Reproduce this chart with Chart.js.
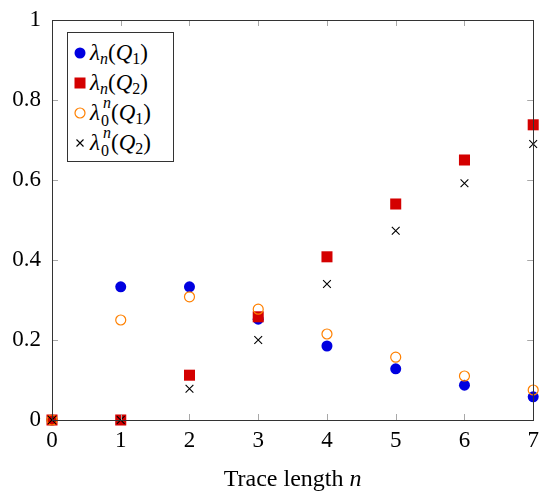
<!DOCTYPE html>
<html><head><meta charset="utf-8">
<script src="https://cdn.jsdelivr.net/npm/chart.js@4"></script>
<style>
html,body{margin:0;padding:0;background:#fff;}
#wrap{position:relative;width:541px;height:491px;}
#legend{position:absolute;left:67px;top:32px;width:107px;height:130px;border:1px solid #333;background:#fff;box-sizing:border-box;font-family:"Liberation Serif",serif;font-size:23px;color:#000;}
.row{position:absolute;left:0;width:100%;height:30px;display:flex;align-items:center;white-space:nowrap;}
.mk{width:12px;height:12px;margin-left:6px;margin-right:4px;display:block;flex:none;}
.mk svg{display:block;}
.tx{display:flex;align-items:center;height:30px;line-height:30px;}
i{font-style:italic;}
.sub{font-size:16px;position:relative;top:6px;line-height:16px;}
.stk{display:inline-block;position:relative;width:11px;height:30px;}
.stk .up{position:absolute;left:3px;top:-3px;font-size:16px;line-height:16px;font-style:italic;}
.stk .dn{position:absolute;left:1px;top:15px;font-size:16px;line-height:16px;}
</style></head>
<body><div id="wrap"><canvas id="c" width="541" height="491"></canvas>
<div id="legend">
 <div class="row" style="top:5px"><span class="mk"><svg width="12" height="12"><circle cx="6" cy="6" r="5.5" fill="#0000e0"/></svg></span><span class="tx"><i>λ</i><span class="sub"><i>n</i></span>(<i>Q</i><span class="sub">1</span>)</span></div>
 <div class="row" style="top:35px"><span class="mk"><svg width="12" height="12"><rect x="0.5" y="0.5" width="11" height="11" fill="#d40000"/></svg></span><span class="tx"><i>λ</i><span class="sub"><i>n</i></span>(<i>Q</i><span class="sub">2</span>)</span></div>
 <div class="row" style="top:65px"><span class="mk"><svg width="12" height="12"><circle cx="6" cy="6" r="5" fill="none" stroke="#ff8000" stroke-width="1.2"/></svg></span><span class="tx"><i>λ</i><span class="stk"><span class="up">n</span><span class="dn">0</span></span>(<i>Q</i><span class="sub">1</span>)</span></div>
 <div class="row" style="top:95px"><span class="mk"><svg width="12" height="12"><path d="M2.5 2.5L9.5 9.5M9.5 2.5L2.5 9.5" stroke="#000" stroke-width="1.1"/></svg></span><span class="tx"><i>λ</i><span class="stk"><span class="up">n</span><span class="dn">0</span></span>(<i>Q</i><span class="sub">2</span>)</span></div>
</div>
</div>
<script>
const traceLengths = [0, 1, 2, 3, 4, 5, 6, 7];
const lambdaQ1 = [0, 0.333, 0.333, 0.252, 0.185, 0.128, 0.087, 0.058];
const lambdaQ2 = [0, 0, 0.112, 0.258, 0.408, 0.54, 0.65, 0.738];
const lambda0Q1 = [0, 0.25, 0.308, 0.277, 0.215, 0.157, 0.11, 0.075];
const lambda0Q2 = [0, 0, 0.078, 0.2, 0.34, 0.473, 0.592, 0.69];
const xTickLabels = ['0','1','2','3','4','5','6','7'];
const yTickValues = [0, 0.2, 0.4, 0.6, 0.8, 1];
const yTickLabels = ['0','0.2','0.4','0.6','0.8','1'];
const xTitle = 'Trace length ';

function pts(ys){ return traceLengths.map((x,i)=>({x:x,y:ys[i]})); }

const FONT = '"Liberation Serif", serif';
const axesPlugin = {
  id:'axesPlugin',
  afterDatasetsDraw(chart){
    const ctx = chart.ctx, a = chart.chartArea;
    const xs = chart.scales.x, ys = chart.scales.y;
    ctx.save();
    ctx.strokeStyle = '#a8a8a8'; ctx.lineWidth = 1;
    const tl = 6;
    traceLengths.forEach(v=>{
      const px = Math.round(xs.getPixelForValue(v))+0.5;
      ctx.beginPath(); ctx.moveTo(px,a.bottom); ctx.lineTo(px,a.bottom-tl);
      ctx.moveTo(px,a.top); ctx.lineTo(px,a.top+tl); ctx.stroke();
    });
    yTickValues.forEach(v=>{
      const py = Math.round(ys.getPixelForValue(v))+0.5;
      ctx.beginPath(); ctx.moveTo(a.left,py); ctx.lineTo(a.left+tl,py);
      ctx.moveTo(a.right,py); ctx.lineTo(a.right-tl,py); ctx.stroke();
    });
    ctx.strokeStyle = '#333';
    ctx.strokeRect(Math.round(a.left)+0.5, Math.round(a.top)+0.5, Math.round(a.right-a.left), Math.round(a.bottom-a.top));
    ctx.fillStyle = '#000';
    ctx.font = '23px ' + FONT;
    ctx.textAlign = 'center'; ctx.textBaseline = 'top';
    traceLengths.forEach((v,i)=>{
      ctx.fillText(xTickLabels[i], xs.getPixelForValue(v), a.bottom+9);
    });
    ctx.textAlign = 'right'; ctx.textBaseline = 'middle';
    yTickValues.forEach((v,i)=>{
      ctx.fillText(yTickLabels[i], a.left-11, ys.getPixelForValue(v));
    });
    // x title
    ctx.textBaseline = 'alphabetic'; ctx.textAlign = 'left';
    ctx.font = '24px ' + FONT;
    const w1 = ctx.measureText(xTitle).width;
    ctx.font = 'italic 24px ' + FONT;
    const w2 = ctx.measureText('n').width;
    const cx = (a.left+a.right)/2, sx = cx - (w1+w2)/2, by = 486;
    ctx.font = '24px ' + FONT;
    ctx.fillText(xTitle, sx, by);
    ctx.font = 'italic 24px ' + FONT;
    ctx.fillText('n', sx+w1, by);
    ctx.restore();
  }
};

new Chart(document.getElementById('c'), {
  type:'scatter',
  data:{datasets:[
    {label:'λn(Q1)', data:pts(lambdaQ1), pointStyle:'circle', pointRadius:5.5, backgroundColor:'#0000e0', borderColor:'#0000e0', borderWidth:0, order:4, clip:false},
    {label:'λn(Q2)', data:pts(lambdaQ2), pointStyle:'rect', pointRadius:7.8, backgroundColor:'#d40000', borderColor:'#d40000', borderWidth:0, order:3, clip:false},
    {label:'λ0n(Q1)', data:pts(lambda0Q1), pointStyle:'circle', pointRadius:5, backgroundColor:'rgba(0,0,0,0)', borderColor:'#ff8000', borderWidth:1.2, order:2, clip:false},
    {label:'λ0n(Q2)', data:pts(lambda0Q2), pointStyle:'crossRot', pointRadius:5.5, backgroundColor:'#000', borderColor:'#000', borderWidth:1.1, order:1, clip:false}
  ]},
  options:{
    responsive:false, animation:false, devicePixelRatio:1,
    layout:{padding:{left:52,top:20,right:6,bottom:71}},
    plugins:{legend:{display:false}, tooltip:{enabled:false}},
    scales:{
      x:{type:'linear', min:0, max:7, display:false},
      y:{type:'linear', min:0, max:1, display:false}
    }
  },
  plugins:[axesPlugin]
});
</script></body></html>
